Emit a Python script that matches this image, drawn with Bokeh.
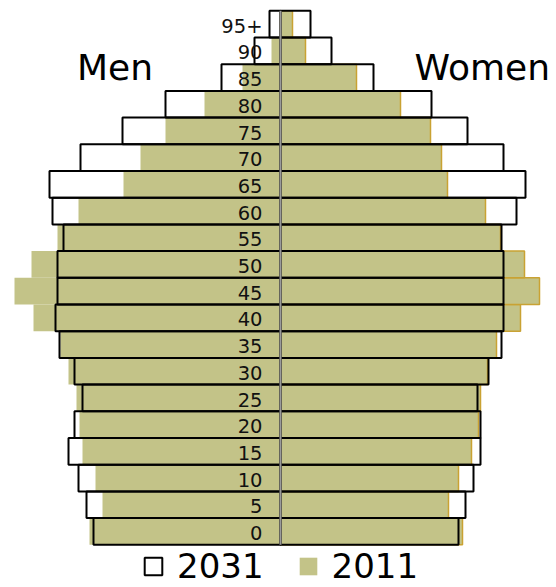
from bokeh.plotting import figure
from bokeh.models import Range1d, Legend, LegendItem, ColumnDataSource
from bokeh.core.properties import value
from bokeh.embed import file_html
from bokeh.resources import INLINE

# Age groups (bottom to top)
ages = ["0", "5", "10", "15", "20", "25", "30", "35", "40", "45",
        "50", "55", "60", "65", "70", "75", "80", "85", "90", "95+"]

# Population per age group (arbitrary units)
men_2031 = [187, 194, 202, 212, 206, 198, 206, 221, 225, 223,
            223, 217, 228, 231, 200, 158, 115, 59, 26, 11]
men_2011 = [191, 178, 185, 198, 201, 204, 212, 220, 247, 266,
            249, 223, 202, 157, 140, 115, 76, 38, 9, 1]
women_2031 = [178, 185, 193, 200, 200, 197, 208, 221, 223, 223,
              223, 221, 236, 245, 223, 187, 151, 93, 51, 30]
women_2011 = [182, 168, 178, 191, 198, 200, 207, 216, 240, 259,
              244, 220, 205, 167, 161, 150, 120, 76, 25, 12]

series_labels = ["2031", "2011"]
side_labels = ["Men", "Women"]

OLIVE = "#c3c388"
GOLD = "#c9a233"
FONT = value("DejaVu Sans")

idx = list(range(len(ages)))
src = ColumnDataSource(dict(
    y=idx,
    m31=[-v for v in men_2031],
    m11=[-v for v in men_2011],
    w31=women_2031,
    w11=women_2011,
))

p = figure(width=556, height=587,
           x_range=Range1d(-280, 276), y_range=Range1d(-2.099, 19.886),
           output_backend="svg", toolbar_location=None, min_border=0,
           x_axis_location=None, y_axis_location=None)
p.grid.visible = False
p.outline_line_color = None
p.background_fill_color = "white"

# 2031 white background bars
p.hbar(y="y", left="m31", right=0, height=1, fill_color="white", line_color=None, source=src)
p.hbar(y="y", left=0, right="w31", height=1, fill_color="white", line_color=None, source=src)
# 2011 olive bars
r11_m = p.hbar(y="y", left="m11", right=0, height=1, fill_color=OLIVE, line_color=None, source=src)
p.hbar(y="y", left=0, right="w11", height=1, fill_color=OLIVE, line_color=GOLD, line_width=1.5, source=src)
# 2031 outlines on top
r31_m = p.hbar(y="y", left="m31", right=0, height=1, fill_color=None, line_color="black", line_width=2, source=src)
p.hbar(y="y", left=0, right="w31", height=1, fill_color=None, line_color="black", line_width=2, source=src)

# centre line
p.segment(x0=[0], y0=[-0.5], x1=[0], y1=[len(ages) - 0.5], line_color="#9a9a9a", line_width=2)

# age labels
p.text(x=[-18] * len(ages), y=[i - 0.06 for i in idx], text=ages,
       text_align="right", text_baseline="middle",
       text_font=FONT, text_font_size="19.5px", text_color="#111111")

# side titles
p.text(x=[-203.5, 134], y=[17.36, 17.36], text=side_labels,
       text_align="left", text_baseline="middle",
       text_font=FONT, text_font_size="36px", text_color="black")

legend = Legend(items=[LegendItem(label=series_labels[0], renderers=[r31_m]),
                       LegendItem(label=series_labels[1], renderers=[r11_m])],
                orientation="horizontal", location=(142, 1),
                label_text_font="DejaVu Sans", label_text_font_size="34px",
                label_text_color="black",
                glyph_width=22, glyph_height=22, label_standoff=13, spacing=33,
                padding=0, margin=0, border_line_color=None,
                background_fill_alpha=0)
p.add_layout(legend)

open("out.html", "w").write(file_html(p, INLINE))
